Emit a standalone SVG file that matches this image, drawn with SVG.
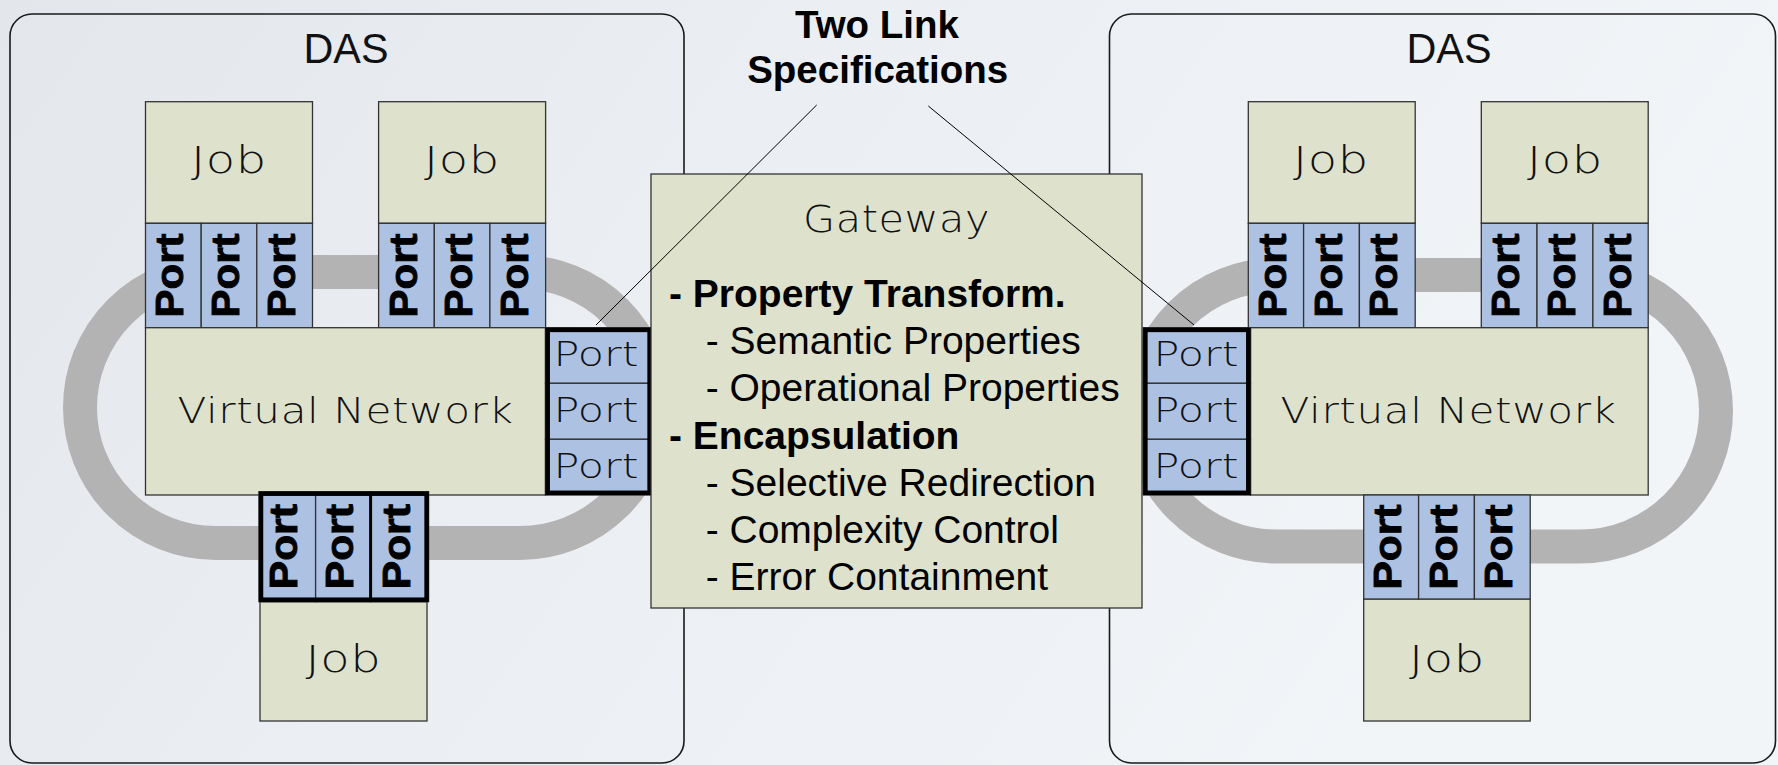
<svg xmlns="http://www.w3.org/2000/svg" width="1778" height="765" viewBox="0 0 1778 765">
<defs>
<linearGradient id="bg" x1="0" y1="0" x2="1" y2="0.3">
<stop offset="0" stop-color="#e3e7ec"/>
<stop offset="0.45" stop-color="#ebeef2"/>
<stop offset="1" stop-color="#f2f5f8"/>
</linearGradient>
<style>
.das{fill:none;stroke:#1a1a1a;stroke-width:1.6}
.ring{fill:none;stroke:#b3b3b3;stroke-width:34}
.box{fill:#dee2cc;stroke:#333;stroke-width:1.3}
.port{fill:#adc2e2;stroke:#333;stroke-width:1.3}
.thick{fill:none;stroke:#000;stroke-width:4.5}
.lbl{font-family:"DejaVu Sans","Liberation Sans",sans-serif;font-weight:200;fill:#111;text-anchor:middle;letter-spacing:0.5px}
.das-t{font-family:"Liberation Sans",sans-serif;font-size:42px;fill:#111;text-anchor:middle}
.job-t{font-size:36.5px}
.vn-t{font-size:36px}
.hp{font-size:34.5px;letter-spacing:0}
.vp{font-family:"Liberation Sans",sans-serif;font-weight:bold;font-size:38px;fill:#000;stroke:#000;stroke-width:0.9;text-anchor:middle}
.gw{font-family:"Liberation Sans",sans-serif;font-size:39px;fill:#000}
.gwb{font-weight:bold}
.title{font-family:"Liberation Sans",sans-serif;font-weight:bold;font-size:38.5px;fill:#000;text-anchor:middle}
.lnk{stroke:#000;stroke-width:1;fill:none}
</style>
</defs>
<rect x="0" y="0" width="1778" height="765" fill="url(#bg)"/>

<!-- Left DAS -->
<g id="das-left">
<rect class="das" x="10" y="14" width="674" height="749" rx="22"/>
<text class="das-t" x="346" y="63" textLength="85" lengthAdjust="spacingAndGlyphs">DAS</text>
</g>
<g id="ring-left"><rect class="ring" x="80" y="272" width="575.5" height="271" rx="135.5"/></g>

<!-- Right DAS -->
<g id="das-right">
<rect class="das" x="1109.5" y="14" width="666" height="749" rx="22"/>
<text class="das-t" x="1449" y="63" textLength="85" lengthAdjust="spacingAndGlyphs">DAS</text>
</g>
<g id="ring-right"><rect class="ring" x="1140.5" y="275" width="575.5" height="271.5" rx="135.75"/></g>

<!-- Left jobs -->
<g id="job-l1">
<rect class="box" x="145.5" y="101.7" width="167" height="121.6"/>
<text class="lbl job-t" x="229" y="173" textLength="76" lengthAdjust="spacingAndGlyphs">Job</text>
<rect class="port" x="145.5" y="223.3" width="55.7" height="104.4"/>
<rect class="port" x="201.2" y="223.3" width="55.6" height="104.4"/>
<rect class="port" x="256.8" y="223.3" width="55.7" height="104.4"/>
<text class="vp" transform="translate(183.4,275.5) rotate(-90)" textLength="84" lengthAdjust="spacingAndGlyphs">Port</text>
<text class="vp" transform="translate(239,275.5) rotate(-90)" textLength="84" lengthAdjust="spacingAndGlyphs">Port</text>
<text class="vp" transform="translate(294.6,275.5) rotate(-90)" textLength="84" lengthAdjust="spacingAndGlyphs">Port</text>
</g>
<g id="job-l2">
<rect class="box" x="378.6" y="101.7" width="167" height="121.6"/>
<text class="lbl job-t" x="462" y="173" textLength="76" lengthAdjust="spacingAndGlyphs">Job</text>
<rect class="port" x="378.6" y="223.3" width="55.7" height="104.4"/>
<rect class="port" x="434.3" y="223.3" width="55.6" height="104.4"/>
<rect class="port" x="489.9" y="223.3" width="55.7" height="104.4"/>
<text class="vp" transform="translate(416.5,275.5) rotate(-90)" textLength="84" lengthAdjust="spacingAndGlyphs">Port</text>
<text class="vp" transform="translate(472.1,275.5) rotate(-90)" textLength="84" lengthAdjust="spacingAndGlyphs">Port</text>
<text class="vp" transform="translate(527.7,275.5) rotate(-90)" textLength="84" lengthAdjust="spacingAndGlyphs">Port</text>
</g>
<g id="vn-left">
<rect class="box" x="145.5" y="327.7" width="400" height="167.3"/>
<text class="lbl vn-t" x="345.5" y="422.7" textLength="336" lengthAdjust="spacingAndGlyphs">Virtual Network</text>
</g>
<g id="job-l3">
<rect class="box" x="260" y="601.7" width="167" height="119.3"/>
<text class="lbl job-t" x="343.5" y="671.7" textLength="76" lengthAdjust="spacingAndGlyphs">Job</text>
<rect class="port" x="259" y="491.7" width="56.6" height="110"/>
<rect class="port" x="315.6" y="491.7" width="55" height="110"/>
<rect class="port" x="370.6" y="491.7" width="58" height="110"/>
<line x1="370.6" y1="491.7" x2="370.6" y2="601.7" stroke="#000" stroke-width="3"/>
<rect class="thick" x="261" y="493.7" width="165.6" height="106"/>
<text class="vp" transform="translate(297.3,546.7) rotate(-90)" textLength="85" lengthAdjust="spacingAndGlyphs">Port</text>
<text class="vp" transform="translate(353.1,546.7) rotate(-90)" textLength="85" lengthAdjust="spacingAndGlyphs">Port</text>
<text class="vp" transform="translate(409.6,546.7) rotate(-90)" textLength="85" lengthAdjust="spacingAndGlyphs">Port</text>
</g>
<g id="gwport-left">
<rect class="port" x="545.5" y="327.7" width="106.3" height="55.6"/>
<rect class="port" x="545.5" y="383.3" width="106.3" height="56"/>
<rect class="port" x="545.5" y="439.3" width="106.3" height="55.7"/>
<rect class="thick" x="547.7" y="329.9" width="101.9" height="162.9"/>
<text class="lbl hp" x="596" y="366" textLength="85" lengthAdjust="spacingAndGlyphs">Port</text>
<text class="lbl hp" x="596" y="422" textLength="85" lengthAdjust="spacingAndGlyphs">Port</text>
<text class="lbl hp" x="596" y="478" textLength="85" lengthAdjust="spacingAndGlyphs">Port</text>
</g>

<!-- Right jobs -->
<g id="job-r1">
<rect class="box" x="1248.3" y="101.7" width="166.9" height="121.6"/>
<text class="lbl job-t" x="1331" y="173" textLength="76" lengthAdjust="spacingAndGlyphs">Job</text>
<rect class="port" x="1248.3" y="223.3" width="55.3" height="104.4"/>
<rect class="port" x="1303.6" y="223.3" width="55.8" height="104.4"/>
<rect class="port" x="1359.4" y="223.3" width="55.8" height="104.4"/>
<text class="vp" transform="translate(1286,275.5) rotate(-90)" textLength="84" lengthAdjust="spacingAndGlyphs">Port</text>
<text class="vp" transform="translate(1341.5,275.5) rotate(-90)" textLength="84" lengthAdjust="spacingAndGlyphs">Port</text>
<text class="vp" transform="translate(1397.3,275.5) rotate(-90)" textLength="84" lengthAdjust="spacingAndGlyphs">Port</text>
</g>
<g id="job-r2">
<rect class="box" x="1481.3" y="101.7" width="166.9" height="121.6"/>
<text class="lbl job-t" x="1565" y="173" textLength="76" lengthAdjust="spacingAndGlyphs">Job</text>
<rect class="port" x="1481.3" y="223.3" width="55.7" height="104.4"/>
<rect class="port" x="1537" y="223.3" width="55.9" height="104.4"/>
<rect class="port" x="1592.9" y="223.3" width="55.3" height="104.4"/>
<text class="vp" transform="translate(1519.2,275.5) rotate(-90)" textLength="84" lengthAdjust="spacingAndGlyphs">Port</text>
<text class="vp" transform="translate(1575,275.5) rotate(-90)" textLength="84" lengthAdjust="spacingAndGlyphs">Port</text>
<text class="vp" transform="translate(1630.5,275.5) rotate(-90)" textLength="84" lengthAdjust="spacingAndGlyphs">Port</text>
</g>
<g id="vn-right">
<rect class="box" x="1250.5" y="327.7" width="397.7" height="167.3"/>
<text class="lbl vn-t" x="1448.6" y="422.7" textLength="336" lengthAdjust="spacingAndGlyphs">Virtual Network</text>
</g>
<g id="job-r3">
<rect class="box" x="1363.7" y="599" width="166.5" height="122"/>
<text class="lbl job-t" x="1447" y="671.7" textLength="76" lengthAdjust="spacingAndGlyphs">Job</text>
<rect class="port" x="1363.7" y="495" width="54.9" height="104"/>
<rect class="port" x="1418.6" y="495" width="55.8" height="104"/>
<rect class="port" x="1474.4" y="495" width="55.8" height="104"/>
<text class="vp" transform="translate(1401,547) rotate(-90)" textLength="85" lengthAdjust="spacingAndGlyphs">Port</text>
<text class="vp" transform="translate(1456.5,547) rotate(-90)" textLength="85" lengthAdjust="spacingAndGlyphs">Port</text>
<text class="vp" transform="translate(1512.3,547) rotate(-90)" textLength="85" lengthAdjust="spacingAndGlyphs">Port</text>
</g>
<g id="gwport-right">
<rect class="port" x="1143.2" y="327.7" width="107.3" height="55.6"/>
<rect class="port" x="1143.2" y="383.3" width="107.3" height="56"/>
<rect class="port" x="1143.2" y="439.3" width="107.3" height="55.7"/>
<rect class="thick" x="1145.4" y="329.9" width="102.9" height="162.9"/>
<text class="lbl hp" x="1196" y="366" textLength="85" lengthAdjust="spacingAndGlyphs">Port</text>
<text class="lbl hp" x="1196" y="422" textLength="85" lengthAdjust="spacingAndGlyphs">Port</text>
<text class="lbl hp" x="1196" y="478" textLength="85" lengthAdjust="spacingAndGlyphs">Port</text>
</g>

<!-- Gateway -->
<g id="gateway">
<rect class="box" x="651" y="174" width="491" height="434"/>
<text class="lbl" style="font-size:37px" x="896.5" y="231.7" textLength="187" lengthAdjust="spacingAndGlyphs">Gateway</text>
<text class="gw gwb" x="669" y="307">- Property Transform.</text>
<text class="gw" x="705.7" y="354">- Semantic Properties</text>
<text class="gw" x="705.7" y="401">- Operational Properties</text>
<text class="gw gwb" x="669" y="449">- Encapsulation</text>
<text class="gw" x="705.7" y="496">- Selective Redirection</text>
<text class="gw" x="705.7" y="543">- Complexity Control</text>
<text class="gw" x="705.7" y="590">- Error Containment</text>
</g>

<g id="title">
<text class="title" x="877" y="38.3">Two Link</text>
<text class="title" x="877.7" y="83.3">Specifications</text>
</g>

<g id="connectors">
<line class="lnk" x1="816.7" y1="105" x2="596" y2="325"/>
<line class="lnk" x1="928.3" y1="106" x2="1194" y2="325"/>
</g>
</svg>
